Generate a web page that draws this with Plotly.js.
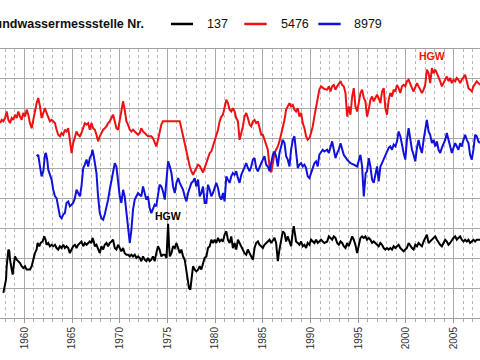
<!DOCTYPE html>
<html>
<head>
<meta charset="utf-8">
<script src="https://cdn.plot.ly/plotly-3.0.1.min.js"></script>
<style>
  html, body { margin: 0; padding: 0; background: #fff; overflow: hidden; }
  #chart { width: 480px; height: 360px; }
</style>
</head>
<body>
<div id="chart"></div>
<script>
// Grundwasserstände dreier Messstellen (Einheit: Rasterstufen der Ordinate)
const seriesNames = ['137', '5476', '8979'];
const seriesColors = ['#000000', '#ee1111', '#1111dd'];
const legendTitle = 'Grundwassermessstelle Nr.';
const peakLabel = 'HGW';

const yrs137 = [
  1957.80,1957.98,1958.08,1958.15,1958.33,1958.43,1958.50,1958.68,1958.78,1958.92,
  1959.02,1959.20,1959.37,1959.55,1959.72,1959.89,1960.07,1960.24,1960.42,1960.59,
  1960.77,1960.94,1961.11,1961.29,1961.39,1961.57,1961.71,1961.92,1962.09,1962.23,
  1962.33,1962.51,1962.68,1962.86,1963.03,1963.21,1963.38,1963.55,1963.73,1963.90,
  1964.08,1964.25,1964.42,1964.60,1964.77,1964.95,1965.12,1965.30,1965.47,1965.64,
  1965.82,1965.99,1966.17,1966.34,1966.52,1966.69,1966.86,1967.04,1967.14,1967.28,
  1967.39,1967.56,1967.73,1967.91,1968.08,1968.26,1968.43,1968.61,1968.78,1968.95,
  1969.13,1969.30,1969.48,1969.65,1969.83,1970.00,1970.17,1970.35,1970.52,1970.70,
  1970.87,1971.05,1971.22,1971.39,1971.57,1971.74,1971.92,1972.09,1972.26,1972.44,
  1972.61,1972.79,1972.96,1973.14,1973.31,1973.48,1973.66,1973.83,1974.01,1974.18,
  1974.36,1974.53,
  1974.72,1974.90,1974.97,1975.07,1975.17,1975.25,1975.42,1975.59,1975.77,1975.94,
  1976.12,1976.29,1976.46,1976.64,1976.81,1976.99,1977.16,1977.26,1977.40,1977.51,
  1977.68,1977.86,1978.03,1978.21,1978.38,1978.55,1978.73,1978.90,1979.08,1979.25,
  1979.43,1979.60,1979.77,1979.95,1980.12,1980.30,1980.47,1980.65,1980.82,1980.99,
  1981.17,1981.34,1981.52,1981.69,1981.86,1982.04,1982.21,1982.39,1982.56,1982.74,
  1982.91,1983.08,1983.26,1983.43,1983.61,1983.78,1983.96,1984.13,1984.30,1984.48,
  1984.65,1984.83,1985.00,1985.17,1985.35,1985.52,1985.70,1985.87,1986.05,1986.22,
  1986.39,1986.57,1986.74,1986.92,1987.09,1987.27,1987.44,1987.61,1987.79,1987.96,
  1988.14,1988.24,1988.38,1988.48,1988.66,1988.83,1989.01,1989.18,1989.36,1989.53,
  1989.70,1989.88,1990.05,1990.23,1990.40,1990.58,1990.75,1990.92,1991.10,1991.27,
  1991.45,
  1991.74,1991.92,1992.09,1992.26,1992.44,1992.61,1992.79,1992.96,1993.14,1993.31,
  1993.48,1993.66,1993.83,1994.01,1994.18,1994.36,1994.53,1994.70,1994.88,1995.05,
  1995.23,1995.40,1995.58,1995.75,1995.92,1996.10,1996.27,1996.45,1996.62,1996.79,
  1996.97,1997.14,1997.32,1997.49,1997.67,1997.84,1998.01,1998.19,1998.36,1998.54,
  1998.71,1998.89,1999.06,1999.23,1999.41,1999.58,1999.76,1999.93,2000.10,2000.28,
  2000.45,2000.63,2000.80,2000.98,2001.15,2001.32,2001.50,2001.67,2001.85,2002.02,
  2002.19,2002.37,2002.54,2002.72,2002.89,2003.07,2003.24,2003.41,2003.59,2003.76,
  2003.94,2004.11,2004.28,2004.46,2004.63,2004.81,2004.98,2005.16,2005.33,2005.50,
  2005.68,2005.85,2006.03,2006.20,2006.38,2006.55,2006.72,2006.90,2007.07,2007.25,
  2007.42,2007.59,2007.77
];
const lvl137 = [
  0.84,1.06,1.28,1.73,2.29,2.23,1.95,1.62,1.45,1.84,
  2.06,1.95,1.90,1.84,1.73,1.67,1.73,1.62,1.62,1.62,
  1.73,1.95,2.17,2.29,2.51,2.40,2.51,2.56,2.73,2.62,
  2.45,2.51,2.40,2.45,2.40,2.45,2.34,2.29,2.40,2.34,
  2.45,2.34,2.40,2.34,2.17,2.29,2.40,2.45,2.34,2.45,
  2.51,2.56,2.40,2.51,2.45,2.51,2.56,2.51,2.68,2.56,
  2.40,2.45,2.29,2.17,2.40,2.29,2.45,2.51,2.40,2.51,
  2.56,2.62,2.34,2.29,2.45,2.34,2.23,2.34,2.17,2.12,
  2.12,2.06,2.12,2.06,2.12,2.01,2.06,2.01,1.90,2.06,
  1.95,1.90,2.01,1.90,1.95,2.06,1.90,2.17,2.40,2.29,
  2.06,2.12,
  2.12,2.01,2.62,3.15,2.40,2.06,2.17,2.40,2.34,2.51,
  2.34,2.17,2.29,2.06,1.95,1.62,1.17,1.00,0.95,1.28,
  1.73,1.62,1.56,1.62,1.73,1.62,1.84,2.01,2.06,2.34,
  2.40,2.62,2.51,2.62,2.51,2.68,2.56,2.62,2.56,2.79,
  2.90,2.62,2.51,2.73,2.34,2.51,2.29,2.62,2.51,2.40,
  2.29,2.17,2.12,2.29,2.17,2.06,1.95,2.34,2.51,2.56,
  2.45,2.40,2.34,2.45,2.51,2.56,2.62,2.51,2.62,2.68,
  2.51,1.90,2.29,2.62,2.90,2.84,2.56,2.73,2.51,2.40,
  2.90,3.07,2.79,2.56,2.51,2.45,2.56,2.40,2.45,2.34,
  2.51,2.45,2.62,2.56,2.51,2.62,2.51,2.56,2.62,2.56,
  2.51,
  2.56,2.73,2.68,2.62,2.73,2.68,2.51,2.45,2.56,2.51,
  2.40,2.34,2.51,2.40,2.56,2.73,2.62,2.45,2.17,2.40,
  2.68,2.73,2.68,2.73,2.62,2.68,2.62,2.51,2.56,2.51,
  2.45,2.40,2.51,2.45,2.34,2.29,2.34,2.29,2.34,2.29,
  2.40,2.34,2.40,2.45,2.34,2.29,2.23,2.29,2.34,2.51,
  2.40,2.34,2.29,2.45,2.40,2.51,2.45,2.40,2.56,2.68,
  2.79,2.51,2.56,2.62,2.68,2.73,2.62,2.51,2.45,2.40,
  2.51,2.62,2.56,2.45,2.51,2.62,2.68,2.73,2.62,2.68,
  2.73,2.62,2.56,2.62,2.56,2.62,2.51,2.56,2.62,2.56,
  2.62,2.62,2.62
];

const yrs5476 = [
  1957.46,1957.63,1957.80,1957.98,1958.15,1958.33,1958.50,1958.68,1958.85,1959.02,
  1959.20,1959.37,1959.55,1959.72,1959.89,1960.07,1960.24,1960.42,1960.59,1960.77,
  1960.94,1961.11,1961.29,1961.46,1961.64,1961.81,1961.99,1962.16,1962.33,1962.51,
  1962.68,1962.86,1963.03,1963.21,1963.38,1963.55,1963.73,1963.90,1964.08,1964.25,
  1964.42,1964.60,1964.77,1964.95,1965.12,1965.30,1965.47,1965.64,1965.82,1965.99,
  1966.17,1966.34,1966.52,1966.69,1966.86,1967.04,1967.21,1967.39,1967.56,1967.73,
  1967.91,1968.08,1968.26,1968.43,1968.61,1968.78,1968.95,1969.13,1969.30,1969.48,
  1969.65,1969.83,1970.00,1970.17,1970.35,1970.52,1970.70,1970.87,1971.05,1971.22,
  1971.39,1971.57,1971.74,1971.92,1972.09,1972.26,1972.44,1972.61,1972.79,1972.96,
  1973.14,1973.31,1973.48,1973.66,1973.83,1974.01,1974.18,1974.36,1974.53,
  1976.29,1976.46,1976.64,1976.81,1976.99,1977.16,1977.34,1977.51,1977.68,1977.86,
  1978.03,1978.21,1978.38,1978.55,1978.73,1978.90,1979.08,1979.25,1979.43,1979.60,
  1979.77,1979.95,1980.12,1980.30,1980.47,1980.65,1980.82,1980.99,1981.17,1981.34,
  1981.52,1981.69,1981.86,1982.04,1982.21,1982.39,1982.56,1982.74,1982.91,1983.08,
  1983.26,1983.43,1983.61,1983.78,1983.96,1984.13,1984.30,1984.48,1984.65,1984.83,
  1985.00,1985.17,1985.35,1985.52,1985.70,1985.87,1986.05,1986.22,1986.39,1986.57,
  1986.74,1986.92,1987.09,1987.27,1987.44,1987.61,1987.79,1987.96,1988.14,1988.31,
  1988.48,1988.66,1988.83,1989.01,1989.18,1989.36,1989.53,1989.70,1989.88,1990.05,
  1990.23,1990.40,1990.58,1990.75,1990.92,1991.10,1991.27,1991.45,
  1991.74,1991.92,1992.09,1992.26,1992.44,1992.61,1992.79,1992.96,1993.14,1993.31,
  1993.48,1993.66,1993.83,1994.01,1994.18,1994.36,1994.53,1994.70,1994.88,1995.05,
  1995.23,1995.40,1995.58,1995.75,1995.92,1996.10,1996.27,1996.45,1996.62,1996.79,
  1996.97,1997.14,1997.32,1997.49,1997.67,1997.84,1998.01,1998.19,1998.36,1998.54,
  1998.71,1998.89,1999.06,1999.23,1999.41,1999.58,1999.76,1999.93,2000.10,2000.28,
  2000.45,2000.63,2000.80,2000.98,2001.15,2001.32,2001.50,2001.67,2001.85,2002.02,
  2002.19,2002.37,2002.54,2002.72,2002.89,2003.07,2003.24,2003.41,2003.59,2003.76,
  2003.94,2004.11,2004.28,2004.46,2004.63,2004.81,2004.98,2005.16,2005.33,2005.50,
  2005.68,2005.85,2006.03,2006.20,2006.38,2006.55,2006.72,2006.90,2007.07,2007.25,
  2007.42,2007.59,2007.77
];
const lvl5476 = [
  6.52,6.63,6.58,6.69,6.91,6.63,6.52,6.69,6.63,6.80,
  6.69,6.91,6.74,6.63,6.86,6.74,6.97,6.80,6.52,6.35,
  6.63,6.97,7.19,7.36,7.08,6.69,6.91,7.02,6.86,6.69,
  6.58,6.63,6.58,6.52,6.30,6.13,6.08,6.19,6.13,6.30,
  6.24,6.35,5.96,5.52,5.85,6.08,6.24,6.13,6.08,6.19,
  6.35,6.52,6.47,6.52,6.30,6.52,6.35,6.30,6.13,5.91,
  6.08,6.19,6.30,6.35,6.41,6.52,6.58,6.69,6.80,6.58,
  6.35,6.30,6.58,6.91,7.25,6.97,6.58,6.47,6.30,6.24,
  6.30,6.24,6.19,6.13,6.19,6.35,6.24,6.19,6.13,6.08,
  6.08,6.08,6.02,5.85,5.74,5.96,6.19,6.47,6.58,
  6.58,6.35,6.08,5.80,5.52,5.30,5.07,4.91,4.79,4.91,
  5.02,5.13,5.09,4.96,4.87,5.02,5.18,5.35,5.52,5.57,
  5.74,5.91,6.08,6.30,6.58,6.74,6.80,7.02,7.30,7.19,
  6.97,6.91,7.02,6.91,6.69,6.58,5.96,6.19,6.41,6.74,
  6.86,6.69,6.47,6.41,6.58,6.63,6.52,6.58,6.35,6.13,
  6.13,5.96,5.85,5.63,5.07,4.87,5.18,5.52,5.63,5.74,
  5.91,6.13,6.35,6.63,6.97,7.08,7.19,7.08,7.13,6.97,
  6.91,7.02,6.74,6.86,6.52,6.35,6.08,5.96,6.02,6.19,
  6.41,6.74,7.08,7.36,7.64,7.75,7.69,7.66,
  7.64,7.75,7.58,7.75,7.80,7.64,7.75,7.86,7.92,7.80,
  7.75,7.53,6.74,7.08,6.80,7.41,7.69,7.08,6.91,7.19,
  7.53,7.64,7.36,7.25,6.74,6.97,7.30,7.41,7.25,7.36,
  7.47,7.36,7.19,7.58,7.69,7.02,6.80,7.30,7.53,7.41,
  7.64,7.58,7.80,7.69,7.53,7.75,7.80,7.75,7.92,7.97,
  7.80,7.69,7.58,7.75,7.86,7.75,7.64,7.53,7.64,7.80,
  8.31,8.19,7.86,8.36,8.19,8.31,8.19,8.08,7.92,7.75,
  7.86,7.97,8.08,7.92,8.03,7.86,7.97,7.92,8.03,7.97,
  7.86,7.97,8.08,8.14,7.92,7.69,7.64,7.58,7.75,7.86,
  7.92,7.86,7.80
];

const yrs8979 = [
  1961.29,1961.46,1961.64,1961.81,1961.99,1962.16,1962.26,1962.40,1962.51,1962.68,
  1962.86,1963.03,1963.21,1963.38,1963.55,1963.73,1963.90,1964.08,1964.25,1964.42,
  1964.60,1964.77,1964.95,1965.12,1965.30,1965.47,1965.64,1965.82,1965.99,1966.17,
  1966.34,1966.52,1966.69,1966.86,1967.04,1967.14,1967.28,1967.39,1967.56,1967.73,
  1967.91,1968.08,1968.26,1968.43,1968.61,1968.78,1968.95,1969.13,1969.30,1969.48,
  1969.65,1969.83,1970.00,1970.17,1970.35,1970.52,1970.70,1970.87,1971.05,1971.22,
  1971.39,1971.57,1971.74,1971.92,1972.09,1972.26,1972.44,1972.61,1972.79,1972.96,
  1973.14,1973.31,1973.48,1973.66,1973.83,1974.01,1974.18,1974.36,1974.53,
  1974.72,1974.90,1975.07,1975.25,1975.42,1975.59,1975.77,1975.94,1976.12,1976.29,
  1976.46,1976.64,1976.81,1976.99,1977.16,1977.34,1977.51,1977.68,1977.86,1978.03,
  1978.21,1978.38,1978.55,1978.73,1978.90,1979.08,1979.25,1979.43,1979.60,1979.77,
  1979.95,1980.12,1980.30,1980.47,1980.65,1980.82,1980.99,1981.17,1981.34,1981.52,
  1981.69,1981.86,1982.04,1982.21,1982.39,1982.56,1982.74,1982.91,1983.08,1983.26,
  1983.43,1983.61,1983.78,1983.96,1984.13,1984.30,1984.48,1984.65,1984.83,1985.00,
  1985.17,1985.35,1985.52,1985.70,1985.87,1986.05,1986.22,1986.39,1986.57,1986.74,
  1986.92,1987.09,1987.27,1987.44,1987.61,1987.79,1987.96,1988.14,1988.31,1988.48,
  1988.66,1988.83,1989.01,1989.18,1989.36,1989.53,1989.70,1989.88,1990.05,1990.23,
  1990.40,1990.58,1990.75,1990.92,1991.10,1991.27,1991.45,
  1991.74,1991.92,1992.09,1992.26,1992.44,1992.61,1992.79,1992.96,1993.14,1993.31,
  1993.48,1993.83,1994.18,1994.53,1994.88,1995.23,1995.40,1995.58,1995.68,1995.78,
  1995.92,1996.10,1996.27,1996.45,1996.62,1996.79,1996.97,1997.14,1997.32,1997.49,
  1997.67,1997.84,1998.01,1998.19,1998.36,1998.54,1998.71,1998.89,1999.06,1999.23,
  1999.41,1999.58,1999.76,1999.93,2000.10,2000.28,2000.45,2000.63,2000.80,2000.98,
  2001.15,2001.32,2001.50,2001.67,2001.85,2002.02,2002.19,2002.37,2002.54,2002.72,
  2002.89,2003.07,2003.24,2003.41,2003.59,2003.76,2003.94,2004.11,2004.28,2004.46,
  2004.63,2004.81,2004.98,2005.16,2005.33,2005.50,2005.68,2005.85,2006.03,2006.20,
  2006.38,2006.55,2006.72,2006.90,2007.07,2007.25,2007.42,2007.59,2007.77
];
const lvl8979 = [
  5.41,5.46,5.07,4.74,4.91,5.46,5.52,5.30,4.96,4.79,
  4.63,4.29,4.07,4.01,3.74,3.40,3.34,3.46,3.51,3.85,
  3.90,3.74,3.79,3.85,4.01,4.29,4.18,4.07,4.40,5.02,
  5.13,5.30,5.07,5.35,5.46,5.63,5.41,5.18,4.85,4.07,
  3.51,3.34,3.29,3.46,3.68,3.96,4.29,4.57,4.91,5.18,
  5.07,4.63,4.07,3.85,4.29,4.07,3.51,2.84,2.51,2.95,
  3.62,3.96,4.07,4.18,4.12,4.07,4.40,4.18,3.96,4.07,
  3.68,3.51,3.68,3.79,3.74,4.18,4.46,4.40,4.24,
  3.96,4.63,5.24,5.07,4.85,4.40,4.18,4.52,4.68,4.52,
  4.40,4.29,4.07,3.90,4.18,4.40,4.52,4.57,4.68,4.40,
  4.63,4.07,4.18,4.40,3.85,3.85,4.46,4.29,4.07,4.18,
  4.40,4.52,4.35,4.07,3.96,4.18,3.90,4.74,4.63,4.52,
  4.74,4.85,4.79,4.91,4.68,4.52,4.79,4.91,5.07,5.18,
  5.02,4.91,5.07,5.30,5.35,5.02,4.91,5.07,5.18,5.30,
  5.41,5.13,5.07,4.91,5.18,5.46,5.57,5.41,5.07,5.52,
  5.74,5.96,5.85,5.41,5.30,5.07,5.63,5.96,6.08,5.63,
  5.02,5.13,5.18,5.07,5.13,5.02,4.74,4.68,4.85,5.07,
  5.18,5.24,5.07,5.46,5.57,5.63,5.57,
  5.63,5.52,5.74,5.91,5.63,5.35,5.52,5.63,5.85,5.63,
  5.46,5.30,5.18,5.13,5.07,5.46,5.07,4.07,4.63,4.85,
  4.91,5.35,5.07,4.63,4.52,4.85,5.07,4.57,5.07,5.18,
  5.30,5.46,5.52,5.69,5.74,5.63,5.80,5.74,5.91,6.24,
  6.08,5.74,5.52,5.30,5.96,6.35,5.96,5.63,5.46,5.24,
  5.69,5.96,5.69,5.52,5.96,6.35,6.63,6.24,6.13,5.85,
  5.96,5.74,5.91,5.63,5.52,5.69,5.85,5.96,6.19,5.96,
  5.69,5.52,5.69,5.85,5.74,5.63,5.85,5.74,5.96,6.13,
  5.96,5.85,5.46,5.30,5.63,6.13,6.08,5.91,5.85
];

const seriesYears = [yrs137, yrs5476, yrs8979];
const seriesLevels = [lvl137, lvl5476, lvl8979];

const traces = seriesNames.map((name, i) => ({
  type: 'scatter',
  mode: 'lines',
  name: name,
  x: seriesYears[i],
  y: seriesLevels[i],
  line: { color: seriesColors[i], width: 2 },
  hoverinfo: 'x+y+name'
}));

// "HGW" (höchster Grundwasserstand) above the maximum of 137 and 5476
function peakOf(i) {
  const lv = seriesLevels[i];
  let k = 0;
  for (let j = 1; j < lv.length; j++) if (lv[j] > lv[k]) k = j;
  return { x: seriesYears[i][k], y: lv[k] };
}
const hgwSeries = [0, 1];
const hgwShift = [0, 4];

const font = 'Liberation Sans, Arial, Helvetica, sans-serif';
const legendY = 1.093;
const legendKeys = [[0.3563, 0.4021, 0.427], [0.509, 0.5556, 0.5813], [0.6632, 0.7097, 0.7337]];

const annotations = [{
  xref: 'paper', yref: 'paper', x: -0.046, y: legendY,
  xanchor: 'left', yanchor: 'middle', showarrow: false,
  text: '<b>' + legendTitle + '</b>',
  font: { family: font, size: 12.5, color: '#111' }
}];
const shapes = [];
seriesNames.forEach((name, i) => {
  const k = legendKeys[i];
  shapes.push({
    type: 'line', xref: 'paper', yref: 'paper',
    x0: k[0], x1: k[1], y0: legendY, y1: legendY,
    line: { color: seriesColors[i], width: 2.5 }
  });
  annotations.push({
    xref: 'paper', yref: 'paper', x: k[2], y: legendY,
    xanchor: 'left', yanchor: 'middle', showarrow: false,
    text: name, font: { family: font, size: 12.5, color: '#111' }
  });
});
hgwSeries.forEach((i, n) => {
  const p = peakOf(i);
  annotations.push({
    x: p.x, y: p.y, xref: 'x', yref: 'y',
    xanchor: 'center', yanchor: 'bottom', showarrow: false,
    yshift: hgwShift[n],
    text: '<b>' + peakLabel + '</b>',
    font: { family: font, size: 10.5, color: seriesColors[i] }
  });
});

const layout = {
  width: 480, height: 360,
  margin: { l: 0, r: 0, t: 49, b: 42, pad: 0, autoexpand: false },
  paper_bgcolor: '#ffffff',
  plot_bgcolor: '#ffffff',
  showlegend: false,
  xaxis: {
    range: [1957.45, 2007.76],
    tickmode: 'linear', tick0: 1960, dtick: 5,
    tickangle: -90,
    ticks: 'outside', ticklen: 4, tickcolor: '#999', tickwidth: 1,
    tickfont: { family: font, size: 10, color: '#333' },
    showgrid: true, gridcolor: '#a8a8a8', gridwidth: 1,
    zeroline: false,
    showline: true, linecolor: '#a0a0a0', linewidth: 1, mirror: true,
    minor: {
      tick0: 1960, dtick: 1,
      showgrid: true, gridcolor: '#b8b8b8', gridwidth: 1, griddash: '3px,3px',
      ticks: 'outside', ticklen: 3, tickcolor: '#aaa'
    }
  },
  yaxis: {
    range: [0, 9],
    tickmode: 'linear', tick0: 0, dtick: 1,
    showticklabels: false, ticks: '',
    showgrid: true, gridcolor: '#a8a8a8', gridwidth: 1,
    zeroline: false
  },
  shapes: shapes,
  annotations: annotations
};

Plotly.newPlot('chart', traces, layout, { displayModeBar: false, staticPlot: true });
</script>
</body>
</html>
